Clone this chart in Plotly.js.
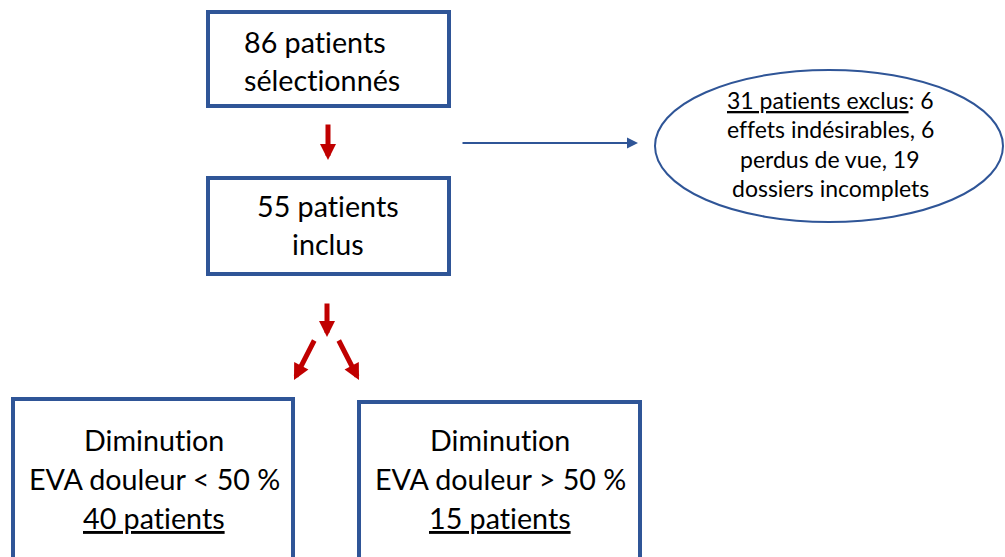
<!DOCTYPE html>
<html>
<head>
<meta charset="utf-8">
<script src="https://cdn.plot.ly/plotly-3.0.1.min.js"></script>
<style>
html,body{margin:0;padding:0;background:#fff;}
#chart{width:1005px;height:557px;}
text{font-variant-ligatures:none !important;font-feature-settings:"liga" 0,"clig" 0,"dlig" 0 !important;}
</style>
</head>
<body>
<div id="chart"></div>
<script>
// ---- Content (text of each node) ----
const selectedLines = ['86 patients', 'sélectionnés'];
const includedLines = ['55 patients', 'inclus'];
const excludedLines = ['<u>31 patients exclus</u>: 6', 'effets indésirables, 6', 'perdus de vue, 19', 'dossiers incomplets'];
const groupLowLines = ['Diminution', 'EVA douleur &lt; 50 %', '<u>40 patients</u>'];
const groupHighLines = ['Diminution', 'EVA douleur &gt; 50 %', '<u>15 patients</u>'];

// ---- Layout geometry (pixel space, y down) ----
const BOX_BLUE = '#2F5597';
const ARROW_RED = '#C00000';
const FONT = 'Lato, "Open Sans", sans-serif';
const BOX_FS = 28.7, ELL_FS = 23;

const nodes = [
  {lines: selectedLines, rect: [208, 12, 449, 106], x: 242, anchor: 'left', baselines: [53, 91], fs: BOX_FS},
  {lines: includedLines, rect: [208, 178, 449, 274], x: 328, anchor: 'center', baselines: [217, 255], fs: BOX_FS},
  {lines: groupLowLines, rect: [13, 399, 293, 575], x: 154, anchor: 'center', baselines: [451, 490, 529], fs: BOX_FS},
  {lines: groupHighLines, rect: [359, 402, 640, 575], x: 500, anchor: 'center', baselines: [451, 490, 529], fs: BOX_FS},
  {lines: excludedLines, ellipse: [655, 70, 1003, 222], x: 830, anchor: 'center', baselines: [109, 138, 168, 197], fs: ELL_FS}
];

const arrows = [
  {from: [328, 123], to: [328, 160], color: ARROW_RED, w: 5, size: 0.64},
  {from: [327, 302], to: [327, 337], color: ARROW_RED, w: 5, size: 0.64},
  {from: [315, 339], to: [294, 380], color: ARROW_RED, w: 5, size: 0.64},
  {from: [338, 339], to: [359, 380], color: ARROW_RED, w: 5, size: 0.64},
  {from: [461, 143], to: [638, 143], color: BOX_BLUE, w: 2, size: 1.1}
];

const shapes = [];
const annotations = [];

nodes.forEach(n => {
  if (n.rect) {
    shapes.push({type: 'rect', xref: 'x', yref: 'y', x0: n.rect[0], y0: n.rect[1], x1: n.rect[2], y1: n.rect[3],
      line: {color: BOX_BLUE, width: 4}, fillcolor: 'rgba(0,0,0,0)'});
  }
  if (n.ellipse) {
    shapes.push({type: 'circle', xref: 'x', yref: 'y', x0: n.ellipse[0], y0: n.ellipse[1], x1: n.ellipse[2], y1: n.ellipse[3],
      line: {color: BOX_BLUE, width: 2}, fillcolor: 'rgba(0,0,0,0)'});
  }
  n.lines.forEach((t, i) => {
    annotations.push({
      text: t, xref: 'x', yref: 'y', x: n.x, y: n.baselines[i] - 0.387 * n.fs,
      xanchor: n.anchor, yanchor: 'middle', showarrow: false,
      font: {family: FONT, size: n.fs, color: '#000000'}
    });
  });
});

arrows.forEach(a => {
  annotations.push({
    text: '', xref: 'x', yref: 'y', axref: 'x', ayref: 'y',
    x: a.to[0], y: a.to[1], ax: a.from[0], ay: a.from[1],
    showarrow: true, arrowhead: 2, arrowwidth: a.w, arrowsize: a.size,
    arrowcolor: a.color, standoff: 0, startstandoff: 0
  });
});

const layout = {
  width: 1005, height: 557,
  margin: {l: 0, r: 0, t: 0, b: 0, pad: 0},
  paper_bgcolor: '#ffffff', plot_bgcolor: '#ffffff',
  xaxis: {range: [0, 1005], visible: false, fixedrange: true},
  yaxis: {range: [557, 0], visible: false, fixedrange: true},
  shapes: shapes,
  annotations: annotations,
  showlegend: false
};

Plotly.newPlot('chart', [], layout, {staticPlot: true, displayModeBar: false});
</script>
</body>
</html>
